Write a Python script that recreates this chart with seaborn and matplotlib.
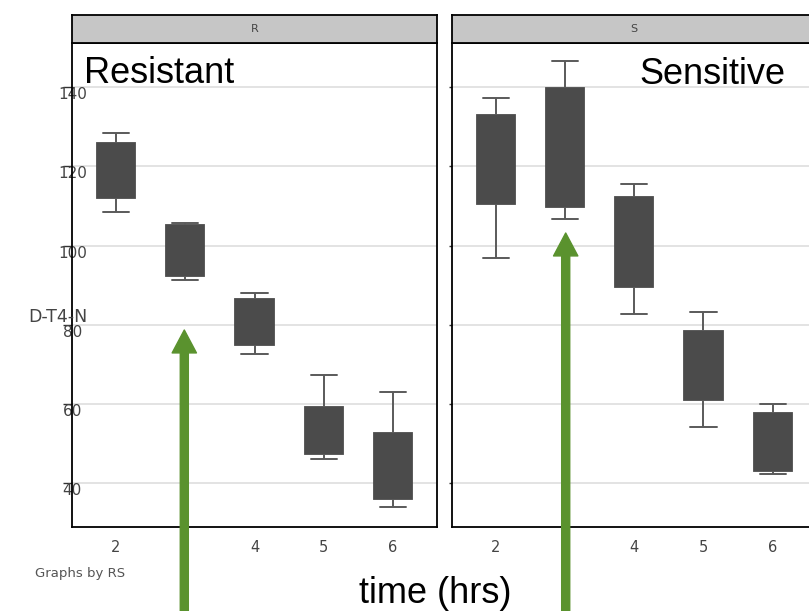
import pandas as pd
import matplotlib
matplotlib.use("Agg")
import matplotlib.pyplot as plt
import seaborn as sns
from matplotlib.patches import FancyArrowPatch

# 数据：每个时间点的箱线 (最小值, 下四分位, 中位数, 上四分位, 最大值)
times = [2, 3, 4, 5, 6]

r_low = [108.4, 91.4, 72.7, 46.0, 33.9]
r_q1 = [112.0, 92.3, 74.8, 47.3, 35.9]
r_med = [119.0, 98.0, 80.0, 53.0, 44.0]
r_q3 = [125.9, 105.1, 86.6, 59.3, 52.7]
r_high = [128.5, 105.6, 88.1, 67.3, 62.9]

s_low = [96.9, 106.7, 82.7, 54.2, 42.2]
s_q1 = [110.5, 109.8, 89.6, 61.1, 43.0]
s_med = [122.0, 125.0, 101.0, 70.0, 50.0]
s_q3 = [133.1, 139.8, 112.3, 78.4, 57.6]
s_high = [137.3, 146.6, 115.5, 83.1, 60.1]

groups = ["R", "S"]
yticks = [40, 60, 80, 100, 120, 140]

# 转为长表格 (5 个点 -> 四分位正好落在第 2、4 个点上)
rows = []
for grp, cols in [("R", (r_low, r_q1, r_med, r_q3, r_high)),
                  ("S", (s_low, s_q1, s_med, s_q3, s_high))]:
    for i, t in enumerate(times):
        for c in cols:
            rows.append({"RS": grp, "time": t, "DT4N": c[i]})
df = pd.DataFrame(rows)

sns.set_theme(style="white")
plt.rcParams['font.family'] = ['DejaVu Sans']

W, H = 809, 611
fig = plt.figure(figsize=(W / 100, H / 100), dpi=100)

box_color = "#4b4b4b"
line_color = "#5a5a5a"
green = "#5a922e"

px = lambda x, y: (x / W, 1 - y / H)

panel_x = {"R": 72.3, "S": 452.0}
pw = 364.4
top, bottom = 43.3, 527.0

for grp in groups:
    x0 = panel_x[grp]
    ax = fig.add_axes([x0 / W, (H - bottom) / H, pw / W, (bottom - top) / H])
    sns.boxplot(
        ax=ax,
        data=df[df["RS"] == grp],
        x="time",
        y="DT4N",
        order=times,
        color=box_color,
        saturation=1,
        width=0.55,
        whis=(0, 100),
        showfliers=False,
        linewidth=1.3,
        boxprops={"facecolor": box_color, "edgecolor": box_color},
        whiskerprops={"color": line_color, "linewidth": 1.4},
        capprops={"color": line_color, "linewidth": 1.4},
        medianprops={"color": box_color, "linewidth": 0},
        capwidths=0.376,
        zorder=3,
    )
    ax.set_xlim(-0.63, 4.63)
    ax.set_ylim(28.9, 151.1)
    ax.set_yticks(yticks)
    ax.grid(axis="y", color="#dedede", linewidth=1.2, zorder=0)
    ax.set_axisbelow(True)
    ax.set_xlabel("")
    ax.set_ylabel("")
    for sp in ax.spines.values():
        sp.set_color("black")
        sp.set_linewidth(1.3)
    ax.tick_params(axis="x", length=0, pad=9, labelsize=10.5, labelcolor="#444444")
    if grp == "R":
        ax.tick_params(axis="y", left=True, length=6.5, width=1, color="#333333",
                       pad=-6.5, labelsize=11, labelcolor="#444444")
        for lbl in ax.get_yticklabels():
            lbl.set_horizontalalignment("center")
            lbl.set_verticalalignment("top")
    else:
        ax.tick_params(axis="y", left=True, length=2, width=1, color="#333333",
                       labelleft=False)

    # 面板标题条
    strip = fig.add_axes([x0 / W, (H - top) / H, pw / W, (top - 15) / H])
    strip.set_facecolor("#c6c6c6")
    strip.set_xticks([])
    strip.set_yticks([])
    for sp in strip.spines.values():
        sp.set_color("black")
        sp.set_linewidth(1.3)
    strip.text(0.5, 0.5, grp, ha="center", va="center", fontsize=8, color="#444444",
               transform=strip.transAxes)

# 文本
fig.text(*px(58, 317), "D-T4-N", ha="center", va="center", fontsize=12.5, color="#444444")
fig.text(*px(35, 573), "Graphs by RS", ha="left", va="center", fontsize=9.5, color="#555555")

ann_font = ["Liberation Sans", "DejaVu Sans"]
fig.text(*px(84, 83), "Resistant", ha="left", va="baseline", fontsize=26, family=ann_font, color="black")
fig.text(*px(639, 84), "Sensitive", ha="left", va="baseline", fontsize=26, family=ann_font, color="black")
fig.text(*px(435, 603), "time (hrs)", ha="center", va="baseline", fontsize=26, family=ann_font, color="black")

# 绿色箭头
style = "simple,head_length=16.5,head_width=17.5,tail_width=5.8"
for ax_x, tip_y in [(184.3, 330), (565.7, 233)]:
    arr = FancyArrowPatch(px(ax_x, 620), px(ax_x, tip_y), arrowstyle=style,
                          mutation_scale=1, color=green, shrinkA=0, shrinkB=0,
                          transform=fig.transFigure, zorder=10)
    fig.add_artist(arr)

plt.savefig("out.png", dpi=100)
